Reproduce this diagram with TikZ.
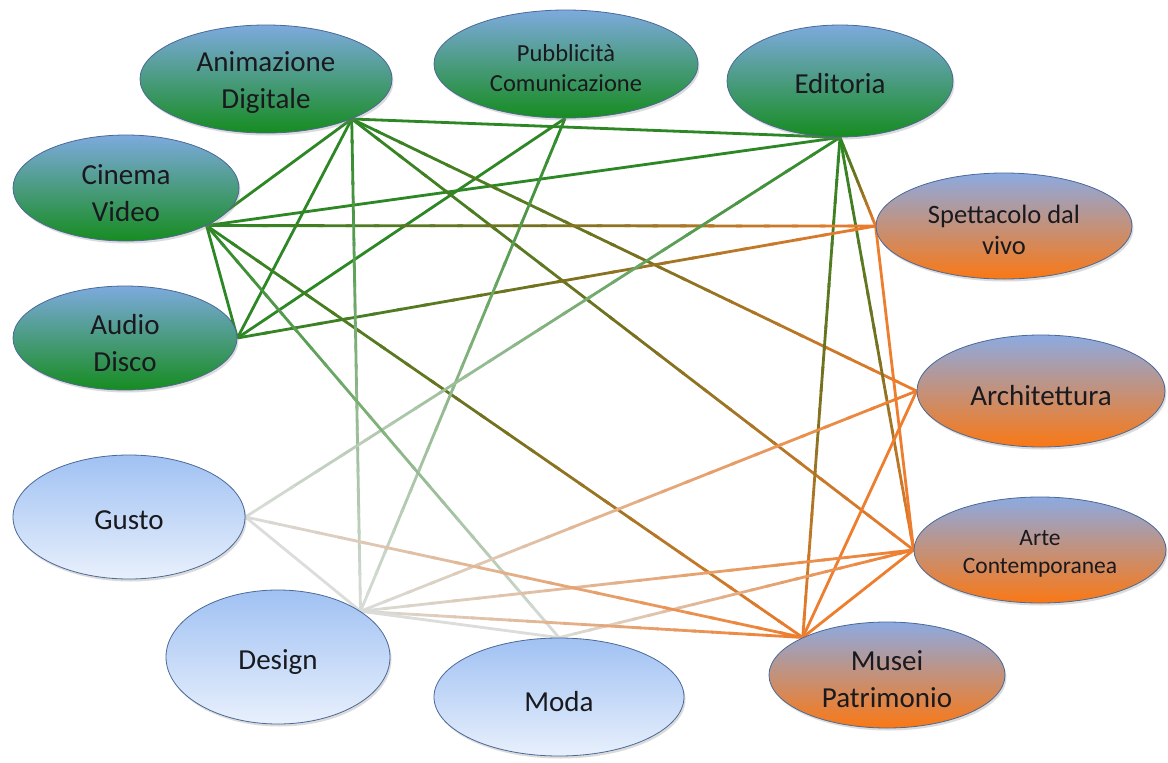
\documentclass[tikz,border=0pt]{standalone}
\usepackage{fontspec}
\setmainfont{Carlito}
\usetikzlibrary{shapes.geometric,shadows,calc}
\definecolor{LG}{RGB}{44,135,36}
\definecolor{LO}{RGB}{238,125,45}
\definecolor{LW}{RGB}{218,221,218}
\definecolor{LGO}{RGB}{118,112,30}
\colorlet{LGW}{LG!50!LW}
\colorlet{LOW}{LO!50!LW}
\definecolor{GT}{RGB}{125,170,222}
\definecolor{GB}{RGB}{22,140,32}
\definecolor{OT}{RGB}{140,170,225}
\definecolor{OB}{RGB}{250,120,20}
\definecolor{BT}{RGB}{160,193,243}
\definecolor{BB}{RGB}{232,240,252}
\definecolor{BD}{RGB}{75,105,150}
\definecolor{TX}{RGB}{25,25,30}
\pgfdeclarelayer{back}
\pgfdeclarelayer{lines}
\pgfsetlayers{back,lines,main}
% gradient connector: from, to, colour at start, colour in middle, colour at end
\newcommand{\glink}[5]{%
  \foreach \k in {0,...,23}{%
    \pgfmathsetmacro{\ta}{\k/24}%
    \pgfmathsetmacro{\tb}{min((\k+1.2)/24,1)}%
    \pgfmathtruncatemacro{\pc}{round((mod(\k,12)+0.5)*100/12)}%
    \ifnum\k<12 \edef\cc{#4!\pc!#3}\else\edef\cc{#5!\pc!#4}\fi
    \draw[link,color=\cc] ($(#1)!\ta!(#2)$) -- ($(#1)!\tb!(#2)$);
  }}
\begin{document}
\begin{tikzpicture}[x=1pt,y=-1pt,
  ell/.style={ellipse, draw=BD, line width=0.8pt, inner sep=0pt,
     drop shadow={opacity=0.28, shadow xshift=1.5pt, shadow yshift=-2.5pt}},
  gn/.style={ell, top color=GT, bottom color=GB},
  on/.style={ell, top color=OT, bottom color=OB},
  bn/.style={ell, top color=BT, bottom color=BB},
  lbl/.style={align=center, text=TX, font=\fontsize{29}{37}\selectfont, inner sep=0pt},
  sm/.style={font=\fontsize{24.5}{30}\selectfont},
  smb/.style={font=\fontsize{23.5}{28}\selectfont},
  md/.style={font=\fontsize{26.5}{31}\selectfont},
  link/.style={line width=2.8pt},
]
\begin{pgfonlayer}{back}
\fill[white] (0,0) rectangle (1168,763);
\end{pgfonlayer}
\useasboundingbox (0,0) rectangle (1168,763);

% nodes
\node[gn, minimum width=252pt, minimum height=108pt,
  label={[lbl,yshift=-4pt]center:{Animazione\\Digitale}}] (ani) at (266,79) {};
\node[gn, minimum width=264pt, minimum height=108pt,
  label={[lbl,sm,yshift=-4pt]center:{Pubblicità\\Comunicazione}}] (pub) at (566,64) {};
\node[gn, minimum width=226pt, minimum height=112pt,
  label={[lbl,yshift=-3pt]center:{Editoria}}] (edi) at (840,81) {};
\node[gn, minimum width=226pt, minimum height=106pt,
  label={[lbl,yshift=-5pt]center:{Cinema\\Video}}] (cin) at (126,188) {};
\node[gn, minimum width=224pt, minimum height=104pt,
  label={[lbl,yshift=-5pt]center:{Audio\\Disco}}] (aud) at (125,338) {};
\node[on, minimum width=256pt, minimum height=106pt,
  label={[lbl,md,yshift=-4pt]center:{Spettacolo dal\\vivo}}] (spe) at (1004,226) {};
\node[on, minimum width=248pt, minimum height=112pt,
  label={[lbl,yshift=-5pt]center:{Architettura}}] (arch) at (1041,391) {};
\node[on, minimum width=252pt, minimum height=106pt,
  label={[lbl,smb,yshift=-4pt]center:{Arte\\Contemporanea}}] (arte) at (1040,550) {};
\node[on, minimum width=236pt, minimum height=106pt,
  label={[lbl,yshift=-4pt]center:{Musei\\Patrimonio}}] (mus) at (887,675) {};
\node[bn, minimum width=232pt, minimum height=124pt,
  label={[lbl,yshift=-3pt]center:{Gusto}}] (gus) at (129,517) {};
\node[bn, minimum width=224pt, minimum height=134pt,
  label={[lbl,yshift=-5pt]center:{Design}}] (des) at (278,657) {};
\node[bn, minimum width=250pt, minimum height=118pt,
  label={[lbl,yshift=-5pt]center:{Moda}}] (moda) at (559,697) {};

% connectors
\begin{pgfonlayer}{lines}
% green - green
\draw[link,LG] (ani.-25) -- (cin.-25);
\draw[link,LG] (ani.-25) -- (aud.0);
\draw[link,LG] (ani.-25) -- (edi.-90);
\draw[link,LG] (pub.-91) -- (aud.0);
\draw[link,LG] (edi.-90) -- (cin.-25);
\draw[link,LG] (cin.-25) -- (aud.0);
% green - orange
\glink{ani.-25}{arch.180}{LG}{LGO}{LO}
\glink{ani.-25}{arte.180}{LG}{LGO}{LO}
\glink{edi.-90}{spe.180}{LG}{LGO}{LO}
\glink{edi.-90}{arte.180}{LG}{LGO}{LO}
\glink{edi.-90}{mus.156}{LG}{LGO}{LO}
\glink{cin.-25}{spe.180}{LG}{LGO}{LO}
\glink{cin.-25}{mus.156}{LG}{LGO}{LO}
\glink{aud.0}{spe.180}{LG}{LGO}{LO}
% green - light
\glink{ani.-25}{des.29}{LG}{LGW}{LW}
\glink{pub.-91}{des.29}{LG}{LGW}{LW}
\glink{edi.-90}{gus.0}{LG}{LGW}{LW}
\glink{cin.-25}{moda.90}{LG}{LGW}{LW}
% orange - orange
\draw[link,LO] (spe.180) -- (arte.180);
\draw[link,LO] (arch.180) -- (mus.156);
\draw[link,LO] (arte.180) -- (mus.156);
% light - orange
\glink{des.29}{arch.180}{LW}{LOW}{LO}
\glink{des.29}{arte.180}{LW}{LOW}{LO}
\glink{moda.90}{arte.180}{LW}{LOW}{LO}
\glink{gus.0}{mus.156}{LW}{LOW}{LO}
\glink{des.29}{mus.156}{LW}{LOW}{LO}
% light - light
\draw[link,LW] (gus.0) -- (des.29);
\draw[link,LW] (des.29) -- (moda.90);
\end{pgfonlayer}
\end{tikzpicture}
\end{document}
